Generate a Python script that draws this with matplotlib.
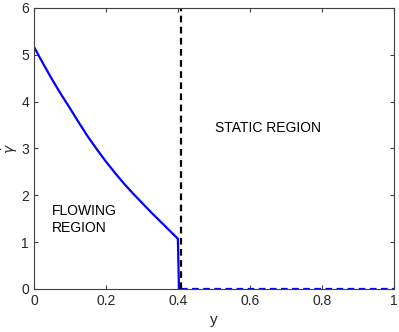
import matplotlib
matplotlib.use("Agg")
import matplotlib.pyplot as plt

# flowing part of the profile
y_flow = [0, 0.025, 0.05, 0.075, 0.1, 0.125, 0.15, 0.175, 0.2, 0.225, 0.25,
          0.275, 0.3, 0.325, 0.35, 0.375, 0.4, 0.403]
rate_flow = [5.17, 4.82, 4.48, 4.16, 3.86, 3.55, 3.25, 2.98, 2.72, 2.48, 2.25,
             2.04, 1.84, 1.64, 1.45, 1.26, 1.07, 0.0]

# static part
y_static = [0.41, 1.0]
rate_static = [0.0, 0.0]

# yield position
y_yield = 0.408

plt.rcParams["font.family"] = "Liberation Sans"
plt.rcParams["mathtext.fontset"] = "dejavusans"

fig = plt.figure(figsize=(3.99, 3.32), dpi=100)
ax = fig.add_axes([0.085, 0.13, 0.902, 0.846])

ax.plot(y_flow, rate_flow, color="blue", lw=1.6)
ax.plot(y_static, rate_static, color="blue", lw=1.6, ls=(0, (3, 2)))
ax.plot([y_yield, y_yield], [0, 6], color="black", lw=1.6, ls=(0, (3, 2)))

ax.text(0.65, 3.43, "STATIC REGION", fontsize=10, ha="center", va="center")
ax.text(0.05, 1.48, "FLOWING\nREGION", fontsize=10, ha="left", va="center",
        linespacing=1.2)

ax.set_xlim(0, 1)
ax.set_ylim(0, 6)
ax.set_xticks([0, 0.2, 0.4, 0.6, 0.8, 1])
ax.set_xticklabels(["0", "0.2", "0.4", "0.6", "0.8", "1"])
ax.set_yticks(range(7))
ax.tick_params(direction="in", top=True, right=True, labelsize=10,
               length=3, color="#404040", labelcolor="#262626")
for s in ax.spines.values():
    s.set_color("#404040")
    s.set_linewidth(0.8)

ax.set_xlabel("y", fontsize=11, color="#262626", labelpad=4)
ax.set_ylabel(r"$\dot{\gamma}$", fontsize=10, color="#262626")
ax.yaxis.label.set_va("center")
ax.yaxis.set_label_coords(-0.065, 0.5)

fig.savefig("out.png", dpi=100)
